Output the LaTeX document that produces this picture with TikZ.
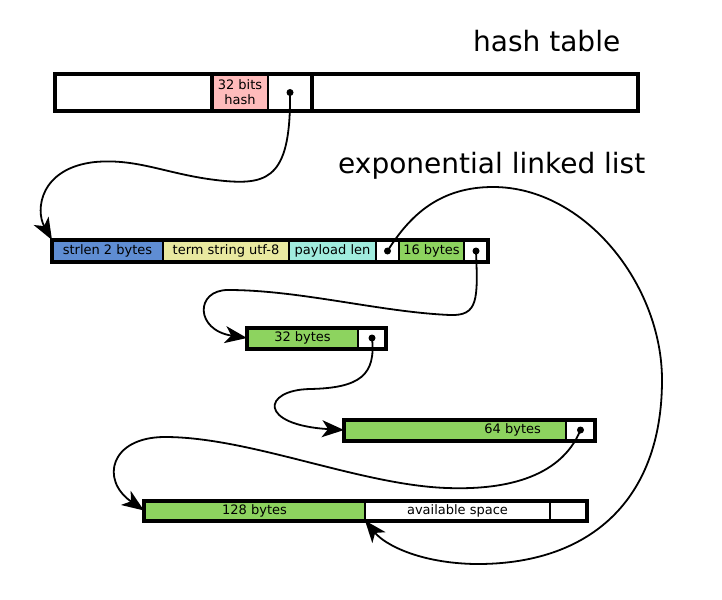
\documentclass[tikz,border=0pt]{standalone}
\usepackage{fontspec}
\setmainfont{DejaVu Sans}
\usepackage{tikz}
\usetikzlibrary{arrows.meta,positioning,fit}
\definecolor{cellblue}{RGB}{95,141,211}
\definecolor{cellyellow}{RGB}{233,233,160}
\definecolor{cellcyan}{RGB}{160,236,222}
\definecolor{cellgreen}{RGB}{141,211,95}
\definecolor{cellpink}{RGB}{255,187,187}
\tikzstyle{cell} = [
    rectangle,
    draw=black,
    line width=1.2pt,
    inner sep=0pt,
    outer sep=0pt,
    minimum height=21pt,
    font=\fontsize{13}{15}\selectfont
]
\tikzstyle{frame} = [
    rectangle,
    draw=black,
    line width=4pt,
    inner sep=0pt,
    outer sep=0pt
]
\tikzstyle{link} = [
    line width=1.8pt,
    -{Stealth[length=22pt,width=17pt,inset=6pt]}
]
\tikzstyle{title} = [
    anchor=base west,
    inner sep=0pt,
    font=\fontsize{28}{32}\selectfont
]

\begin{document}
\begin{tikzpicture}[x=1pt,y=-1pt]
    \useasboundingbox (0,0) rectangle (722,599);
    \node[title] (ht) at (473,52) {hash table};
    \node[title] (ll) at (338,173) {exponential linked list};

    % hash table
    \node[cell, minimum height=37pt, minimum width=157pt, anchor=west] (hl) at (55,92.5) {};
    \node[cell, minimum height=37pt, minimum width=56pt, fill=cellpink, align=center, right=0pt of hl] (hk) {32 bits\\hash};
    \node[cell, minimum height=37pt, minimum width=44pt, right=0pt of hk] (hp) {};
    \node[cell, minimum height=37pt, minimum width=326pt, right=0pt of hp] (hr) {};
    \node[frame, fit=(hl)(hr)] (htab) {};
    \node[frame, fit=(hk)(hp)] (hslot) {};

    % first block
    \node[cell, minimum height=22pt, minimum width=111pt, fill=cellblue, anchor=west] (r1a) at (52,251) {strlen 2 bytes};
    \node[cell, minimum height=22pt, minimum width=126pt, fill=cellyellow, right=0pt of r1a] (r1b) {term string utf-8};
    \node[cell, minimum height=22pt, minimum width=87pt, fill=cellcyan, right=0pt of r1b] (r1c) {payload len};
    \node[cell, minimum height=22pt, minimum width=23pt, right=0pt of r1c] (r1d) {};
    \node[cell, minimum height=22pt, minimum width=65pt, fill=cellgreen, right=0pt of r1d] (r1e) {16 bytes};
    \node[cell, minimum height=22pt, minimum width=24pt, right=0pt of r1e] (r1f) {};
    \node[frame, fit=(r1a)(r1f)] (r1) {};

    % 32 bytes
    \node[cell, minimum width=111pt, fill=cellgreen, anchor=west] (r2a) at (247,338) {32 bytes};
    \node[cell, minimum width=28pt, right=0pt of r2a] (r2b) {};
    \node[frame, fit=(r2a)(r2b)] (r2) {};

    % 64 bytes
    \node[cell, minimum width=222pt, text width=172pt, align=right, fill=cellgreen, anchor=west] (r3a) at (344,430) {64 bytes};
    \node[cell, minimum width=29pt, right=0pt of r3a] (r3b) {};
    \node[frame, fit=(r3a)(r3b)] (r3) {};

    % 128 bytes
    \node[cell, minimum height=20pt, minimum width=221pt, fill=cellgreen, anchor=west] (r4a) at (144,510.5) {128 bytes};
    \node[cell, minimum height=20pt, minimum width=185pt, right=0pt of r4a] (r4b) {available space};
    \node[cell, minimum height=20pt, minimum width=37pt, right=0pt of r4b] (r4c) {};
    \node[frame, fit=(r4a)(r4c)] (r4) {};

    % pointers
    \fill (hp.center) circle (3.5pt);
    \fill (r1d.center) circle (3.5pt);
    \fill (r1f.center) circle (3.5pt);
    \fill (r2b.center) circle (3.5pt);
    \fill (r3b.center) circle (3.5pt);

    \draw[link] (hp.center) .. controls (291,175) and (270,185) .. (225,181)
        .. controls (170,176) and (140,158) .. (95,162)
        .. controls (40,168) and (35,210) .. (r1a.north west);
    \draw[link] (r1d.center) .. controls (410,215) and (440,187) .. (493,187)
        .. controls (585,187) and (662,285) .. (662,380)
        .. controls (662,500) and (590,565) .. (475,564)
        .. controls (420,563) and (385,545) .. (r4a.south east);
    \draw[link] (r1f.center) .. controls (478,300) and (478,316) .. (450,315)
        .. controls (380,312) and (300,290) .. (228,290)
        .. controls (195,290) and (195,330) .. (r2a.west);
    \draw[link] (r2b.center) .. controls (376,375) and (360,388) .. (310,389)
        .. controls (262,390) and (258,425) .. (r3a.west);
    \draw[link] (r3b.center) .. controls (560,480) and (500,490) .. (447,488)
        .. controls (360,485) and (250,437) .. (165,437)
        .. controls (110,437) and (100,480) .. (r4a.west);
\end{tikzpicture}
\end{document}
